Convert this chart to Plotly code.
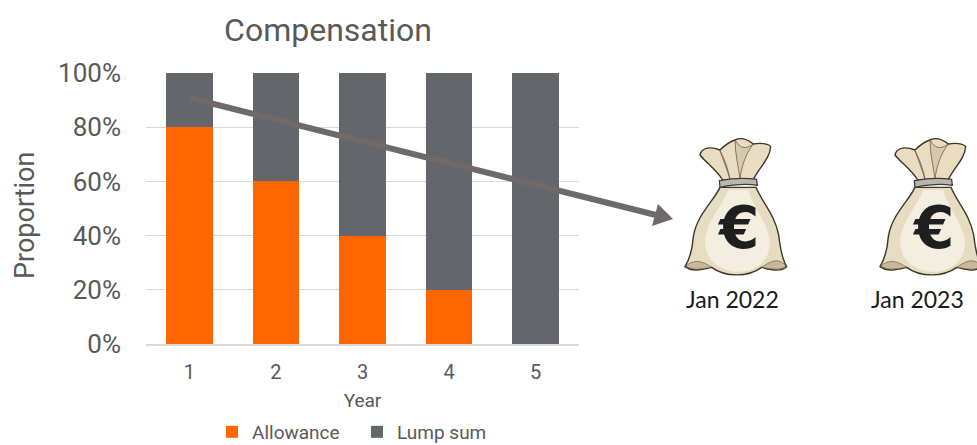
import plotly.graph_objects as go

years = ["1", "2", "3", "4", "5"]
allowance = [80, 60, 40, 20, 0]
lump_sum = [20, 40, 60, 80, 100]
y_ticks = [0, 20, 40, 60, 80, 100]
y_tick_labels = ["0%", "20%", "40%", "60%", "80%", "100%"]
bag_labels = ["Jan 2022", "Jan 2023"]

W, H = 977, 445
L, R, T, B = 146, 579, 73, 344
NARROW = "Roboto, Liberation Sans, sans-serif"
TXT = "#595959"

def px(x):
    return (x - L) / (R - L)

def py(y):
    return (B - y) / (B - T)

def path(cmds, dx=0.0, zoom=True):
    out = []
    for c, pts in cmds:
        s = [c]
        for i in range(0, len(pts), 2):
            X = 670 + pts[i] / 3 + dx if zoom else pts[i]
            Y = 130 + pts[i + 1] / 3 if zoom else pts[i + 1]
            s.append(f"{px(X):.5f},{py(Y):.5f}")
        out.append(" ".join(s))
    return " ".join(out) + " Z"

BODY = [("M", [150, 172]),
        ("C", [130, 215, 80, 255, 70, 320]),
        ("C", [68, 350, 60, 385, 45, 410]),
        ("C", [70, 428, 100, 418, 125, 412]),
        ("C", [165, 442, 235, 442, 275, 412]),
        ("C", [300, 418, 330, 428, 350, 410]),
        ("C", [335, 385, 330, 350, 326, 315]),
        ("C", [315, 255, 275, 215, 258, 172])]
BODY_LIGHT = [("M", [175, 180]),
              ("C", [150, 240, 105, 280, 105, 340]),
              ("C", [110, 400, 160, 425, 205, 425]),
              ("C", [255, 425, 300, 395, 300, 335]),
              ("C", [295, 280, 250, 235, 235, 180])]
NECK = [("M", [158, 150]),
        ("C", [140, 120, 110, 100, 90, 75]),
        ("C", [95, 50, 125, 50, 150, 60]),
        ("C", [165, 45, 180, 35, 195, 30]),
        ("C", [215, 20, 235, 30, 250, 42]),
        ("C", [270, 38, 295, 40, 302, 50]),
        ("C", [300, 85, 270, 110, 250, 148])]
FOLD1 = [("M", [150, 62]), ("C", [165, 90, 175, 120, 180, 148]),
         ("C", [170, 115, 160, 90, 150, 62])]
FOLD2 = [("M", [195, 30]), ("C", [195, 70, 205, 110, 210, 146]),
         ("C", [215, 110, 225, 75, 250, 42]),
         ("C", [225, 60, 210, 55, 195, 30])]
ROPE = [("M", [148, 152]), ("C", [185, 145, 225, 143, 260, 148]),
        ("L", [262, 166]), ("C", [225, 160, 185, 165, 150, 172])]
SHADE_L = [("M", [48, 408]), ("C", [75, 385, 100, 395, 125, 412]),
           ("C", [100, 415, 70, 425, 48, 408])]
SHADE_R = [("M", [348, 408]), ("C", [325, 380, 300, 395, 275, 412]),
           ("C", [300, 415, 330, 425, 348, 408])]

shapes = [
    dict(type="line", xref="paper", yref="paper", x0=px(190), y0=py(98), x1=px(656), y1=py(215),
         line=dict(color="#6f6a6a", width=6)),
    dict(type="path", xref="paper", yref="paper", fillcolor="#6f6a6a", line=dict(width=0),
         path=path([("M", [673, 219]), ("L", [652, 226]), ("L", [658, 204])], zoom=False)),
]
for dx in (0, 195):
    for cmds, fill, lc, lw in [
        (NECK, "#e9dcc0", "#3d3629", 1.4),
        (FOLD1, "#cdbd9b", "#5a503d", 0.7),
        (FOLD2, "#d8c9a8", "#5a503d", 0.7),
        (BODY, "#e6dcc2", "#3d3629", 1.4),
        (BODY_LIGHT, "#f4eee0", "rgba(0,0,0,0)", 0),
        (SHADE_L, "#c9b998", "#3d3629", 0.5),
        (SHADE_R, "#c9b998", "#3d3629", 0.5),
        (ROPE, "#b9b6ae", "#3d3a35", 1.2),
    ]:
        shapes.append(dict(type="path", xref="paper", yref="paper", path=path(cmds, dx),
                           fillcolor=fill, line=dict(color=lc, width=lw)))

annotations = [
    dict(text="Proportion", xref="paper", yref="paper", x=px(25), y=py(216), textangle=-90,
         xanchor="center", yanchor="middle",
         showarrow=False, font=dict(family=NARROW, size=27, color=TXT)),
]
for dx, lab, cx in zip((0, 195), bag_labels, (732, 917)):
    annotations.append(dict(text="€", xref="paper", yref="paper", x=px(738 + dx), y=py(228),
                            xanchor="center", yanchor="middle",
                            showarrow=False, font=dict(family="DejaVu Sans", size=58, color="#1f1f1f", weight="bold")))
    annotations.append(dict(text=lab, xref="paper", yref="paper", x=px(cx), y=py(299),
                            xanchor="center", yanchor="middle",
                            showarrow=False, font=dict(family="Lato", size=23, color="#1a1a1a")))

fig = go.Figure()
fig.add_bar(name="Allowance", x=years, y=allowance, marker_color="#ff6600", marker_line_width=0)
fig.add_bar(name="Lump sum", x=years, y=lump_sum, marker_color="#63666a", marker_line_width=0)

fig.update_layout(
    barmode="stack", bargap=0.46, width=W, height=H,
    margin=dict(l=L, r=W - R, t=T, b=H - B, pad=0, autoexpand=False),
    paper_bgcolor="white", plot_bgcolor="white",
    title=dict(text="Compensation", x=328 / W, xanchor="center", y=1 - 30 / H, yanchor="middle",
               font=dict(family=NARROW, size=32, color=TXT)),
    font=dict(family=NARROW, color=TXT),
    xaxis=dict(title=dict(text="Year", font=dict(size=19, color=TXT), standoff=11),
               tickfont=dict(size=20, color=TXT), showline=True, linecolor="#d9d9d9", linewidth=1.5,
               showgrid=False, ticks="", ticklen=0, ticklabelstandoff=9),
    yaxis=dict(range=[0, 100], tickvals=y_ticks, ticktext=y_tick_labels,
               tickfont=dict(size=26, color=TXT), gridcolor="#d9d9d9", gridwidth=1,
               zeroline=False, showline=False, ticks="", ticklabelstandoff=24),
    legend=dict(orientation="h", xanchor="left", x=px(212), yanchor="middle", yref="container", y=1 - 432 / H,
                font=dict(size=19, color=TXT), itemwidth=30, entrywidth=100, entrywidthmode="pixels",
                bgcolor="rgba(0,0,0,0)", traceorder="normal"),
    shapes=shapes, annotations=annotations, bargroupgap=0,
)
fig.write_html("out.html", config={"displayModeBar": False}, post_script="document.body.style.margin='0';")
